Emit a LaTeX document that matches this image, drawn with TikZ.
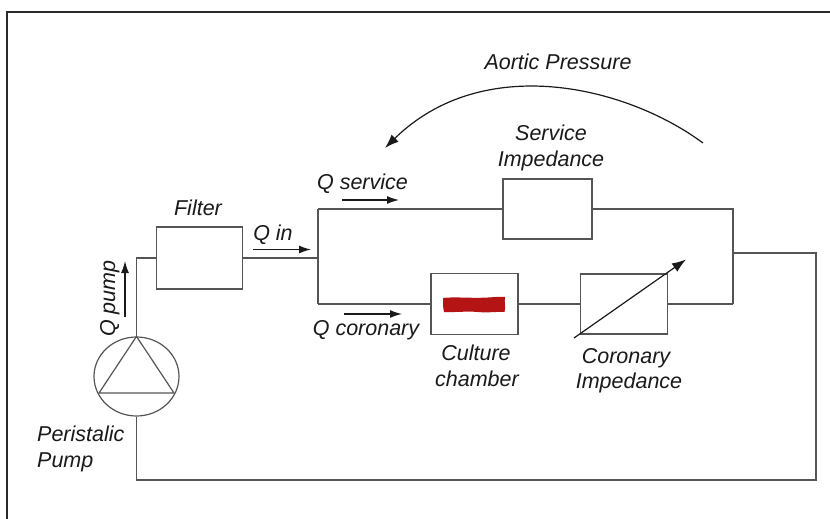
\documentclass[tikz,border=0pt]{standalone}
\usepackage{fontspec}
\setmainfont{Liberation Sans}
\usetikzlibrary{arrows.meta,shapes.geometric,calc}
\definecolor{wire}{HTML}{555555}
\definecolor{frame}{HTML}{2A2A2A}
\definecolor{ink}{HTML}{1A1A1A}
\definecolor{tissue}{HTML}{B51414}
\begin{document}
\begin{tikzpicture}[x=1pt,y=-1pt,
  wirestyle/.style={draw=wire,line width=1.2pt},
  unitbox/.style={draw=wire,line width=1.2pt,fill=white,inner sep=0pt},
  lbl/.style={font=\itshape\fontsize{21.5}{26}\selectfont,text=ink,inner sep=0pt,anchor=base},
  flowarrow/.style={draw=ink,line width=1.3pt,-{Latex[length=12pt,width=8pt]}},
]
\useasboundingbox (0,0) rectangle (830,519);
\fill[white] (0,0) rectangle (830,519);

% outer frame (open to the right and bottom)
\draw[frame,line width=1.8pt] (7,519) -- (7,12) -- (830,12);

% components
\node[unitbox,ellipse,minimum width=85pt,minimum height=79pt] (pump) at (136.5,376.5) {};
\node[unitbox,minimum width=86.5pt,minimum height=62pt] (filter) at (199.5,258) {};
\node[unitbox,minimum width=89pt,minimum height=60pt] (service) at (547.5,209) {};
\node[unitbox,minimum width=87pt,minimum height=61pt] (culture) at (474.5,304) {};
\node[unitbox,minimum width=86.5pt,minimum height=60pt] (coronary) at (624,304) {};

% pump triangle
\draw[wirestyle] (pump.north) -- ($(pump.center)+(37.5,16.5)$) -- ($(pump.center)+(-37.5,16.5)$) -- cycle;

% tissue sample in the culture chamber
\fill[tissue] (443,298) .. controls (455,296.5) and (470,298.5) .. (488,297.5)
  .. controls (496,297) and (501,296.5) .. (505,297)
  .. controls (504,302) and (506,307) .. (504.5,312)
  .. controls (496,311.5) and (488,313) .. (478,312)
  .. controls (466,311) and (455,312.5) .. (444,312)
  .. controls (442.5,307) and (443.5,302) .. (443,298) -- cycle;

% junction points
\coordinate (jTop) at (318,209);
\coordinate (jMid) at (318,258);
\coordinate (jBot) at (318,304);
\coordinate (rTop) at (733,209);
\coordinate (rMid) at (733,253);
\coordinate (rBot) at (733,304);
\coordinate (ret) at (816,480);

% tubing
\draw[wirestyle] (pump.north) |- (filter.west);
\draw[wirestyle] (filter.east) -- (jMid);
\draw[wirestyle] (jTop) -- (jBot);
\draw[wirestyle] (jTop) -- (service.west);
\draw[wirestyle] (service.east) -- (rTop) -- (rBot);
\draw[wirestyle] (jBot) -- (culture.west);
\draw[wirestyle] (culture.east) -- (coronary.west);
\draw[wirestyle] (coronary.east) -- (rBot);
\draw[wirestyle] (rMid) -| (ret) -| (pump.south);

% variable impedance arrow
\coordinate (varA) at (574,338);
\coordinate (varB) at (686,259.5);
\draw[draw=ink,line width=1.2pt,-{Latex[length=14pt,width=10pt]}] (varA) -- (varB);

% flow arrows
\coordinate (qpA) at (125,317); \coordinate (qpB) at (125,261);
\coordinate (qiA) at (253,249.5); \coordinate (qiB) at (311,249.5);
\coordinate (qsA) at (342,200); \coordinate (qsB) at (399,200);
\coordinate (qcA) at (344,314); \coordinate (qcB) at (402,314);
\draw[flowarrow] (qpA) -- (qpB);
\draw[flowarrow] (qiA) -- (qiB);
\draw[flowarrow] (qsA) -- (qsB);
\draw[flowarrow] (qcA) -- (qcB);

% aortic pressure feedback arc
\coordinate (apA) at (703,143);
\coordinate (apB) at (385,148);
\draw[draw=ink,line width=1.2pt,-{Latex[length=14pt,width=10pt]}]
  (apA) .. controls (626,86) and (483,52) .. (apB);

% labels
\node[lbl] (tAortic) at (558,70) {Aortic Pressure};
\node[lbl] (tServ1) at (551,140) {Service};
\node[lbl] (tServ2) at (551,166) {Impedance};
\node[lbl] (tFilter) at (198,215) {Filter};
\node[lbl] (tQin) at (273,240) {Q in};
\node[lbl] (tQserv) at (362.5,189) {Q service};
\node[lbl] (tQcor) at (366,335) {Q coronary};
\node[lbl] (tCult1) at (476,360) {Culture};
\node[lbl] (tCult2) at (477,386.5) {chamber};
\node[lbl] (tCor1) at (626,363) {Coronary};
\node[lbl] (tCor2) at (629,388.5) {Impedance};
\node[lbl,rotate=90] (tQpump) at (115,298.5) {Q pump};
\node[lbl,anchor=base west] (tPer1) at (37,441.5) {Peristalic};
\node[lbl,anchor=base west] (tPer2) at (37,467) {Pump};
\end{tikzpicture}
\end{document}
